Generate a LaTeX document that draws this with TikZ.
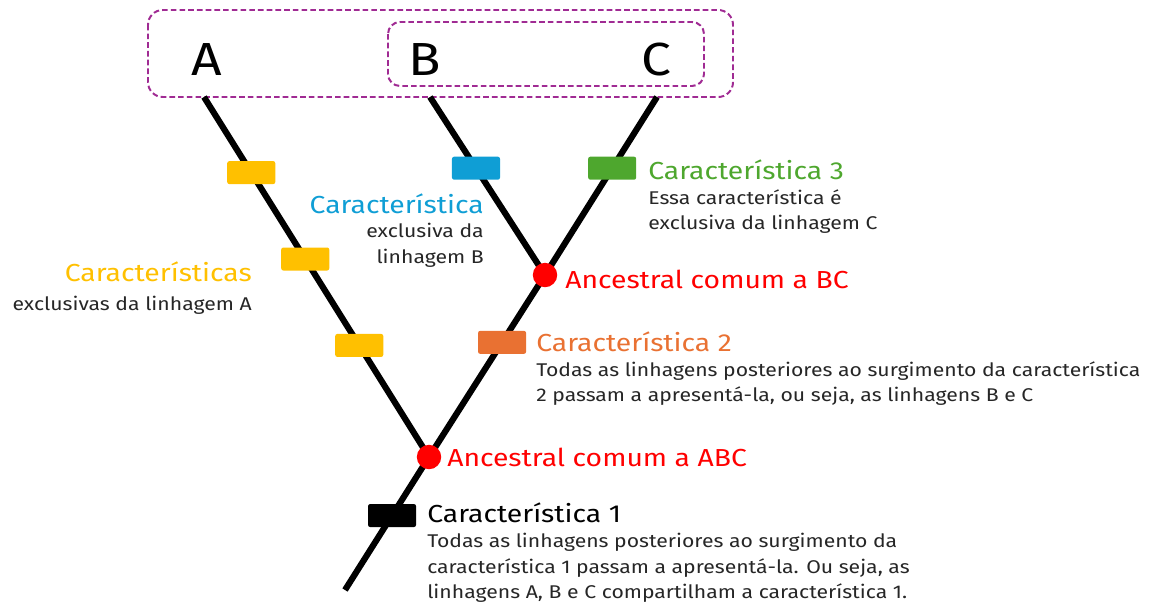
\documentclass[tikz,border=0pt]{standalone}
\usepackage{fontspec}
\setmainfont{Fira Sans}[FakeStretch=1.15]
\usetikzlibrary{calc}
\usetikzlibrary{positioning}
\definecolor{cladePurple}{HTML}{A02B93}
\definecolor{traitYellow}{HTML}{FFC000}
\definecolor{traitBlue}{HTML}{0F9ED5}
\definecolor{traitGreen}{HTML}{4EA72E}
\definecolor{traitOrange}{HTML}{E97132}
\definecolor{textGray}{HTML}{262626}
\tikzset{
  lineage/.style = {color=#1, line width=4.4pt},
  trait/.style = {fill=#1, rounded corners=1.5pt, minimum width=1.2cm, minimum height=0.575cm, inner sep=0pt},
  ancestor/.style = {circle, fill=#1, minimum size=0.61cm, inner sep=0pt},
  clade/.style = {draw=#1, line width=1.4pt, dash pattern=on 4pt off 2.2pt},
  taxon/.style = {font=\fontsize{33}{36}\selectfont, inner sep=0pt, anchor=base},
  heading/.style = {text=#1, font=\fontsize{17.5}{21}\selectfont, inner sep=0pt},
  remark/.style = {text=textGray, font=\fontsize{13.1}{18.3}\selectfont, inner sep=0pt, align=#1, execute at begin node=\strut}
}

\begin{document}
\begin{tikzpicture}[x=0.025cm, y=-0.025cm]
    \useasboundingbox (0,0) rectangle (1157,612);

    % Coordinates
    \coordinate (root) at (345,590);
    \coordinate (ABC) at (429,457);
    \coordinate (BC) at (545,275);
    \coordinate (tipA) at (204,97);
    \coordinate (tipB) at (430,97);
    \coordinate (tipC) at (657,97);

    % Clades
    \draw[clade={cladePurple}, rounded corners=0.37cm] (148,10) rectangle (733,97);
    \draw[clade={cladePurple}, rounded corners=0.3cm] (388,22) rectangle (704,86);

    % Taxa
    \node[taxon] (A) at (206.5,75) {A};
    \node[taxon] (B) at (425,75) {B};
    \node[taxon] (C) at (656,75) {C};

    % Lineages
    \draw[lineage={black}] (root) -- (ABC) -- (BC) -- (tipC);
    \draw[lineage={black}] (ABC) -- (tipA);
    \draw[lineage={black}] (BC) -- (tipB);

    % Ancestors
    \node[ancestor={red}] (ancABC) at (ABC) {};
    \node[ancestor={red}] (ancBC) at (BC) {};

    % Traits
    \node[trait={traitYellow}] (traitA1) at ($(ABC)!0.79!(tipA)$) {};
    \node[trait={traitYellow}] (traitA2) at ($(ABC)!0.55!(tipA)$) {};
    \node[trait={traitYellow}] (traitA3) at ($(ABC)!0.31!(tipA)$) {};
    \node[trait={traitBlue}] (traitB) at ($(BC)!0.6!(tipB)$) {};
    \node[trait={traitGreen}] (trait3) at ($(BC)!0.6!(tipC)$) {};
    \node[trait={traitOrange}] (trait2) at ($(ABC)!0.63!(BC)$) {};
    \node[trait={black}] (trait1) at ($(ABC)!0.44!(root)$) {};

    % Ancestor labels
    \node[heading={red}, anchor=base west] (labABC) at (447,466.7) {Ancestral comum a ABC};
    \node[heading={red}, anchor=base west] (labBC) at (565,288) {Ancestral comum a BC};

    % Trait labels
    \node[heading={black}, anchor=base west] (head1) at (427,522.7) {Característica 1};
    \node[remark=left, below=0.25cm of head1.base west, anchor=north west] (note1)
      {Todas as linhagens posteriores ao surgimento da\\característica 1 passam a apresentá-la. Ou seja, as\\linhagens A, B e C compartilham a característica 1.};

    \node[heading={traitOrange}, anchor=base west] (head2) at (536,351) {Característica 2};
    \node[remark=left, below=0.25cm of head2.base west, anchor=north west] (note2)
      {Todas as linhagens posteriores ao surgimento da característica\\2 passam a apresentá-la, ou seja, as linhagens B e C};

    \node[heading={traitGreen}, anchor=base west] (head3) at (648,179) {Característica 3};
    \node[remark=left, below=0.25cm of head3.base west, anchor=north west] (note3)
      {Essa característica é\\exclusiva da linhagem C};

    \node[heading={traitBlue}, anchor=base east] (headB) at (484,213) {Característica};
    \node[remark=right, below=0.25cm of headB.base east, anchor=north east] (noteB)
      {exclusiva da\\linhagem B};

    \node[heading={traitYellow}, anchor=base east] (headA) at (252,281.7) {Características};
    \node[remark=right, below=0.25cm of headA.base east, anchor=north east] (noteA)
      {exclusivas da linhagem A};

\end{tikzpicture}
\end{document}
